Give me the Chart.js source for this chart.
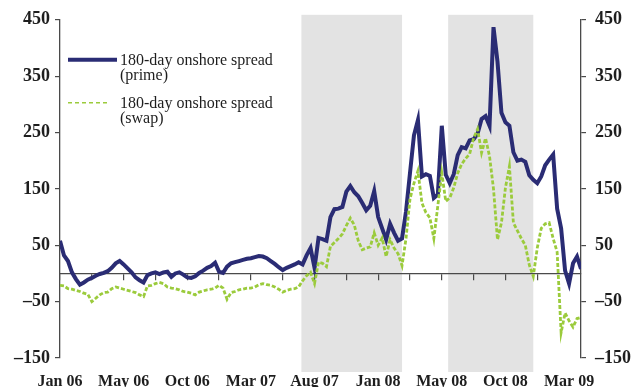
<!DOCTYPE html>
<html>
<head>
<meta charset="utf-8">
<script src="https://cdn.jsdelivr.net/npm/chart.js@4.4.1/dist/chart.umd.min.js"></script>
<style>
  html, body { margin: 0; padding: 0; background: #ffffff; }
  #wrap { width: 631px; height: 387px; }
</style>
</head>
<body>
<div id="wrap"><canvas id="chart" width="631" height="387"></canvas></div>
<script>
// Dated labels along the bottom, one every LABEL_STEP samples
const tickLabels = ['Jan 06', 'May 06', 'Oct 06', 'Mar 07', 'Aug 07', 'Jan 08', 'May 08', 'Oct 08', 'Mar 09'];
const LABEL_STEP = 16;
const yTicks = [-150, -50, 50, 150, 250, 350, 450];

// 180-day onshore spread over prime (basis points)
const prime = [
  58, 32, 22, 2, -10, -20, -16, -11, -8, -4,
  -1, 1, 4, 10, 18, 22, 16, 9, 2, -7,
  -12, -16, -3, 0, 2, -1, 2, 3, -6, 0,
  2, -2, -7, -8, -5, 1, 5, 10, 13, 19,
  3, 1, 12, 18, 20, 22, 24, 26, 27, 29,
  31, 30, 27, 22, 17, 11, 6, 10, 13, 16,
  20, 16, 32, 45, 10, 63, 61, 58, 100, 114,
  115, 118, 145, 155, 144, 137, 125, 112, 120, 146,
  100, 80, 60, 88, 72, 58, 62, 110, 178, 245,
  272, 172, 176, 173, 134, 140, 262, 175, 160, 176,
  210, 224, 222, 236, 238, 248, 274, 279, 262, 437,
  376, 285, 268, 262, 215, 200, 202, 198, 174, 166,
  160, 172, 192, 202, 211, 115, 80, 5, -18, 18,
  30, 8
];

// 180-day onshore spread over swap (basis points)
const swap = [
  -21, -22, -27, -28, -30, -32, -35, -37, -50, -44,
  -38, -34, -33, -27, -24, -26, -28, -30, -32, -34,
  -38, -41, -22, -21, -18, -16, -18, -24, -26, -27,
  -29, -32, -33, -35, -38, -33, -31, -29, -28, -26,
  -21, -26, -46, -34, -32, -29, -28, -26, -26, -24,
  -20, -18, -20, -21, -24, -28, -33, -30, -28, -27,
  -24, -13, -4, 2, -18, 20, 18, 12, 48, 55,
  62, 70, 85, 98, 86, 58, 42, 45, 47, 72,
  50, 63, 30, 60, 45, 35, 14, 62, 132, 160,
  182, 125, 108, 99, 62, 120, 178, 128, 134, 152,
  178, 194, 204, 212, 240, 256, 214, 240, 208, 150,
  60, 90, 152, 190, 90, 76, 62, 50, 15, -5,
  45, 80, 88, 90, 62, 38, -105, -70, -84, -95,
  -80, -78
];

// Shaded periods, as [start, end] sample positions
const shadedSpans = [[60.7, 86.0], [97.6, 119.0]];

const seriesNames = [
  ['180-day onshore spread', '(prime)'],
  ['180-day onshore spread', '(swap)']
];

const NAVY = '#2A2C74';
const GREEN = '#9BCB3C';
const AXIS = '#4a4a4a';
const TEXT = '#1e1e1e';
const lastIndex = prime.length - 1;

const shadePlugin = {
  id: 'shadedSpans',
  beforeDraw(chart) {
    const { ctx, chartArea, scales } = chart;
    ctx.save();
    ctx.fillStyle = '#E3E3E3';
    shadedSpans.forEach(([a, b]) => {
      const x0 = scales.x.getPixelForValue(a);
      const x1 = scales.x.getPixelForValue(b);
      ctx.fillRect(x0, chartArea.top - 5, x1 - x0, chartArea.bottom - chartArea.top + 19);
    });
    ctx.restore();
  }
};

const legendPlugin = {
  id: 'insetLegend',
  afterDatasetsDraw(chart) {
    const { ctx, chartArea } = chart;
    const left = chartArea.left + 8;
    const textX = chartArea.left + 60;
    const rows = [
      { y: chartArea.top + 40, len: 49 },
      { y: chartArea.top + 83, len: 42 }
    ];
    ctx.save();
    chart.data.datasets.forEach((ds, i) => {
      const r = rows[i];
      ctx.beginPath();
      ctx.strokeStyle = ds.borderColor;
      ctx.lineWidth = i === 0 ? 4 : 1.5;
      ctx.setLineDash(i === 0 ? [] : [4, 3]);
      ctx.moveTo(left, r.y);
      ctx.lineTo(left + r.len, r.y);
      ctx.stroke();
      ctx.setLineDash([]);
      ctx.fillStyle = TEXT;
      ctx.font = '16px "Liberation Serif", "Times New Roman", serif';
      ctx.textBaseline = 'alphabetic';
      ctx.textAlign = 'left';
      ctx.fillText(seriesNames[i][0], textX, r.y + 5);
      ctx.fillText(seriesNames[i][1], textX, r.y + 20);
    });
    ctx.restore();
  }
};

const tickFont = { family: '"Liberation Serif", "Times New Roman", serif', size: 18, weight: 'bold' };

new Chart(document.getElementById('chart'), {
  type: 'line',
  data: {
    datasets: [
      {
        label: seriesNames[0].join(' '),
        data: prime.map((v, i) => ({ x: i, y: v })),
        borderColor: NAVY,
        borderWidth: 4,
        pointRadius: 0,
        tension: 0,
        order: 1
      },
      {
        label: seriesNames[1].join(' '),
        data: swap.map((v, i) => ({ x: i, y: v })),
        borderColor: GREEN,
        borderWidth: 2.8,
        borderDash: [4, 2],
        pointRadius: 0,
        tension: 0,
        order: 0
      }
    ]
  },
  options: {
    responsive: false,
    animation: false,
    devicePixelRatio: 1,
    layout: { padding: { top: 18, left: 0, right: 0, bottom: 0 } },
    plugins: { legend: { display: false }, tooltip: { enabled: false } },
    scales: {
      x: {
        type: 'linear',
        position: 'bottom',
        min: 0,
        max: lastIndex,
        afterBuildTicks: s => { s.ticks = tickLabels.map((_, k) => ({ value: k * LABEL_STEP })); },
        afterFit: s => { s.height = 29; },
        ticks: {
          autoSkip: false,
          maxRotation: 0,
          padding: 6,
          color: TEXT,
          font: { family: '"Liberation Serif", "Times New Roman", serif', size: 16, weight: 'bold' },
          callback: v => tickLabels[Math.round(v / LABEL_STEP)]
        },
        grid: { display: false },
        border: { display: false }
      },
      xZero: {
        type: 'linear',
        axis: 'x',
        position: { y: 0 },
        min: 0,
        max: lastIndex,
        afterBuildTicks: s => {
          const t = [];
          for (let v = 0; v <= (tickLabels.length - 1) * LABEL_STEP; v += LABEL_STEP / 2) t.push({ value: v });
          s.ticks = t;
        },
        ticks: { display: false },
        grid: { display: true, drawOnChartArea: false, drawTicks: true, tickLength: 6, color: AXIS, lineWidth: 1.2 },
        border: { display: true, color: AXIS, width: 1.3 }
      },
      y: {
        type: 'linear',
        position: 'left',
        min: -150,
        max: 450,
        afterBuildTicks: s => { s.ticks = yTicks.map(v => ({ value: v })); },
        afterFit: s => { s.width = 60; },
        ticks: { padding: 5, color: TEXT, font: tickFont, callback: v => (v < 0 ? '\u2013' + Math.abs(v) : String(v)) },
        grid: { drawOnChartArea: false, drawTicks: true, tickLength: 5, color: AXIS, lineWidth: 1.2 },
        border: { display: true, color: AXIS, width: 1.3 }
      },
      y2: {
        type: 'linear',
        position: 'right',
        min: -150,
        max: 450,
        afterBuildTicks: s => { s.ticks = yTicks.map(v => ({ value: v })); },
        afterFit: s => { s.width = 50; },
        ticks: { padding: 9, color: TEXT, font: tickFont, callback: v => (v < 0 ? '\u2013' + Math.abs(v) : String(v)) },
        grid: { drawOnChartArea: false, drawTicks: true, tickLength: 5, color: AXIS, lineWidth: 1.2 },
        border: { display: true, color: AXIS, width: 1.3 }
      }
    }
  },
  plugins: [shadePlugin, legendPlugin]
});
</script>
</body>
</html>
